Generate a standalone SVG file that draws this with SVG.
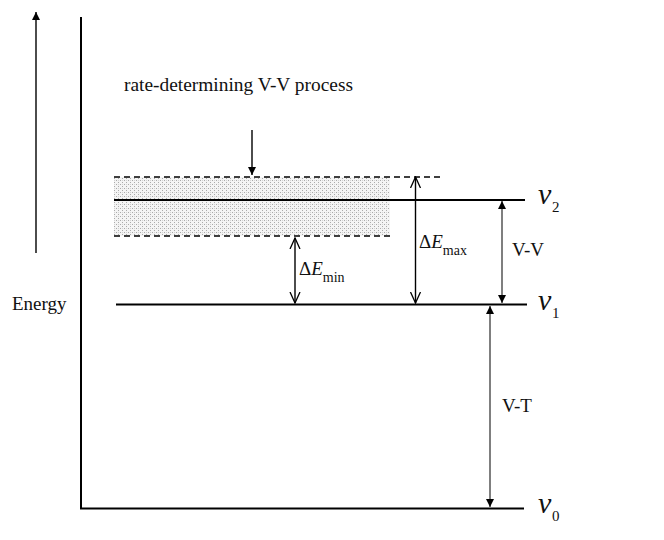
<svg xmlns="http://www.w3.org/2000/svg" width="664" height="540" viewBox="0 0 664 540">
<style>
.t{font-family:"Liberation Serif","Times New Roman",serif;font-size:19px;fill:#111}
.i{font-style:italic}
.nu{font-family:"Liberation Serif","Times New Roman",serif;font-style:italic;font-size:30px;fill:#111}
.sb{font-family:"Liberation Serif","Times New Roman",serif;font-size:15px;fill:#111}
.ln{stroke:#000;stroke-width:2;fill:none}
.th{stroke:#000;stroke-width:1.4;fill:none}
.gr{stroke:#555;stroke-width:1.5;fill:none}
.ds{stroke:#000;stroke-width:1.7;stroke-dasharray:6,4;fill:none}
</style>
<defs>
<marker id="fa" viewBox="0 0 10 10" refX="10" refY="5" markerWidth="8" markerHeight="8" markerUnits="userSpaceOnUse" orient="auto">
<path d="M0,0 L10,5 L0,10 z" fill="#000"/>
</marker>
<marker id="fs" viewBox="0 0 10 10" refX="10" refY="5" markerWidth="8" markerHeight="8" markerUnits="userSpaceOnUse" orient="auto">
<path d="M0,0 L10,5 L0,10 z" fill="#000"/>
</marker>
<marker id="oa" viewBox="0 0 12 12" refX="11" refY="6" markerWidth="12" markerHeight="12" markerUnits="userSpaceOnUse" orient="auto">
<path d="M0,1 L11,6 L0,11" fill="none" stroke="#000" stroke-width="1.3"/>
</marker>
<pattern id="dots" width="4" height="4" patternUnits="userSpaceOnUse">
<rect width="4" height="4" fill="#f4f4f4"/>
<rect x="0" y="0" width="1" height="1" fill="#aaa"/>
<rect x="2" y="2" width="1" height="1" fill="#aaa"/>
<rect x="2" y="0" width="1" height="1" fill="#d4d4d4"/>
</pattern>
</defs>
<g id="axis">
<line x1="36" y1="253" x2="36" y2="12" class="th" stroke-width="1.8" marker-end="url(#fa)"/>
<text x="12" y="310" class="t" font-size="18">Energy</text>
<line x1="81" y1="17" x2="81" y2="509" class="ln"/>
</g>
<g id="band">
<rect x="114" y="177" width="276" height="59" fill="url(#dots)"/>
<line x1="114" y1="177" x2="440" y2="177" class="ds"/>
<line x1="114" y1="236" x2="390" y2="236" class="ds"/>
</g>
<g id="v2">
<line x1="114" y1="200" x2="525" y2="200" class="ln"/>
<text x="538" y="204" class="nu">ν</text>
<text x="552" y="212" class="sb">2</text>
</g>
<g id="v1">
<line x1="116" y1="304.5" x2="527" y2="304.5" class="ln"/>
<text x="538" y="310" class="nu">ν</text>
<text x="552" y="318" class="sb">1</text>
</g>
<g id="v0">
<line x1="80" y1="508.5" x2="524" y2="508.5" class="ln"/>
<text x="538" y="513" class="nu">ν</text>
<text x="552" y="521" class="sb">0</text>
</g>
<g id="connectors">
<line x1="252" y1="130" x2="252" y2="175" class="th" marker-end="url(#fa)"/>
<line x1="295" y1="270" x2="295" y2="238" class="th" marker-end="url(#oa)"/>
<line x1="295" y1="270" x2="295" y2="303" class="th" marker-end="url(#oa)"/>
<line x1="415.5" y1="240" x2="415.5" y2="177" class="th" marker-end="url(#oa)"/>
<line x1="415.5" y1="240" x2="415.5" y2="303" class="th" marker-end="url(#oa)"/>
<line x1="502" y1="250" x2="502" y2="201" class="gr" marker-end="url(#fs)"/>
<line x1="502" y1="250" x2="502" y2="303" class="gr" marker-end="url(#fs)"/>
<line x1="490" y1="400" x2="490" y2="306" class="gr" stroke-width="1" marker-end="url(#fs)"/>
<line x1="490" y1="400" x2="490" y2="507" class="gr" stroke-width="1" marker-end="url(#fs)"/>
</g>
<g id="labels">
<text x="124" y="91" class="t" textLength="229" lengthAdjust="spacingAndGlyphs">rate-determining V-V process</text>
<text x="299" y="275" class="t" font-size="20">Δ<tspan class="i">E</tspan><tspan font-size="14" dy="7">min</tspan></text>
<text x="419" y="248" class="t" font-size="20">Δ<tspan class="i">E</tspan><tspan font-size="14" dy="7">max</tspan></text>
<text x="512" y="256" class="t">V-V</text>
<text x="502" y="412" class="t">V-T</text>
</g>
</svg>
